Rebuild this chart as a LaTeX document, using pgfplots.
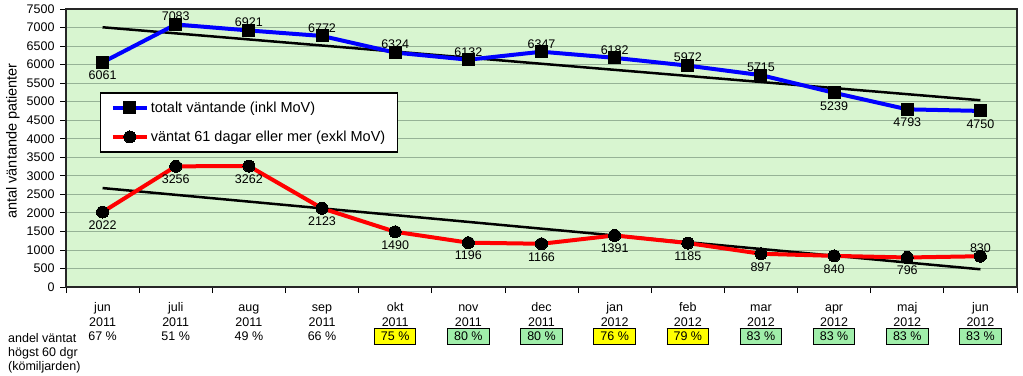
\documentclass[border=0pt]{standalone}
\usepackage{pgfplots}
\pgfplotsset{compat=1.18}
\usepackage{fontspec}
\setmainfont{Liberation Sans}
\definecolor{bggreen}{RGB}{216,245,208}
\definecolor{gridc}{RGB}{150,178,150}
\definecolor{boxgreen}{RGB}{160,238,170}
\definecolor{boxyellow}{RGB}{255,255,0}
\setlength{\fboxsep}{3bp}
\setlength{\fboxrule}{1bp}
\newcommand{\yb}[1]{\smash{\fcolorbox{black}{boxyellow}{\hspace{3bp}#1\hspace{3bp}}}}
\newcommand{\gb}[1]{\smash{\fcolorbox{black}{boxgreen}{\hspace{3bp}#1\hspace{3bp}}}}
\newcommand{\tl}[3]{\strut #1\\#2\\#3}
\newcommand{\lf}{\fontsize{12.5bp}{14.5bp}\selectfont}
\newcommand{\bigf}{\fontsize{14.5bp}{17bp}\selectfont}
\pgfkeys{/pgf/number format/.cd, 1000 sep={}, assume math mode=true}
\begin{document}
\begin{tikzpicture}
\begin{axis}[
  scale only axis, width=951bp, height=278bp,
  xmin=-0.5, xmax=12.5, ymin=0, ymax=7500,
  ytick={0,500,...,7500},
  xtick={-0.5,0.5,...,12.5},
  xticklabels={},
  extra x ticks={0,1,2,3,4,5,6,7,8,9,10,11,12},
  extra x tick labels={{\tl{jun}{2011}{67 \%}},{\tl{juli}{2011}{51 \%}},{\tl{aug}{2011}{49 \%}},{\tl{sep}{2011}{66 \%}},{\tl{okt}{2011}{\yb{75 \%}}},{\tl{nov}{2011}{\gb{80 \%}}},{\tl{dec}{2011}{\gb{80 \%}}},{\tl{jan}{2012}{\yb{76 \%}}},{\tl{feb}{2012}{\yb{79 \%}}},{\tl{mar}{2012}{\gb{83 \%}}},{\tl{apr}{2012}{\gb{83 \%}}},{\tl{maj}{2012}{\gb{83 \%}}},{\tl{jun}{2012}{\gb{83 \%}}}},
  extra x tick style={major tick length=0pt},
  xticklabel style={align=center, font=\lf, yshift=-11bp},
  yticklabel style={font=\lf, xshift=-2bp},
  tick align=outside, tick pos=left,
  major tick length=6bp,
  every tick/.style={black, line width=0.8bp},
  ymajorgrids, grid style={gridc, line width=0.8bp},
  axis background/.style={fill=bggreen},
  axis line style={line width=1.2bp, black!85},
  clip=false,
  legend style={at={(0.036,0.70)}, anchor=north west, draw=black, line width=1.2bp, fill=white,
    font=\bigf, row sep=13bp, inner xsep=10bp, inner ysep=7bp, cells={anchor=west},
    every odd column/.style={column sep=8bp}},
  legend image code/.code={\draw[mark repeat=2,mark phase=2,#1] plot coordinates {(0bp,0bp) (17bp,0bp) (34bp,0bp)};},
  nodes near coords style={font=\lf, black},
]
\addplot[black, line width=2.5bp, forget plot] coordinates {(0,7007) (12,5038)};
\addplot[black, line width=2.5bp, forget plot] coordinates {(0,2669) (12,478)};
\addplot[blue, line width=4bp, mark=square*, mark size=6bp, mark options={solid, black, fill=black, line width=0pt}]
  coordinates {(0,6061) (1,7083) (2,6921) (3,6772) (4,6324) (5,6132) (6,6347) (7,6182) (8,5972) (9,5715) (10,5239) (11,4793) (12,4750)};
\addlegendentry{totalt väntande (inkl MoV)}
\addplot[red, line width=4bp, mark=*, mark size=6bp, mark options={solid, black, fill=black, line width=0pt}]
  coordinates {(0,2022) (1,3256) (2,3262) (3,2123) (4,1490) (5,1196) (6,1166) (7,1391) (8,1185) (9,897) (10,840) (11,796) (12,830)};
\addlegendentry{väntat 61 dagar eller mer (exkl MoV)}
% labels above
\addplot[draw=none, mark=none, forget plot, nodes near coords, every node near coord/.append style={anchor=south, yshift=0bp}]
  coordinates {(1,7083) (2,6921) (3,6772) (4,6324) (5,6132) (6,6347) (7,6182) (8,5972) (9,5715) (12,830)};
% labels below
\addplot[draw=none, mark=none, forget plot, nodes near coords, every node near coord/.append style={anchor=north, yshift=-5bp}]
  coordinates {(0,6061) (10,5239) (11,4793) (12,4750) (0,2022) (1,3256) (2,3262) (3,2123) (4,1490) (5,1196) (6,1166) (7,1391) (8,1185) (9,897) (10,840) (11,796)};
\end{axis}
\node[rotate=90, font=\bigf] at (-53bp,146bp) {antal väntande patienter};
\node[anchor=base west, inner sep=0pt, font=\lf] at (-58bp,-55.5bp) {andel väntat};
\node[anchor=base west, inner sep=0pt, font=\lf] at (-58bp,-69.5bp) {högst 60 dgr};
\node[anchor=base west, inner sep=0pt, font=\lf] at (-58bp,-83bp) {(kömiljarden)};
\pgfresetboundingbox
\path[use as bounding box] (-66bp,-89bp) rectangle (957bp,287bp);
\end{tikzpicture}
\end{document}
